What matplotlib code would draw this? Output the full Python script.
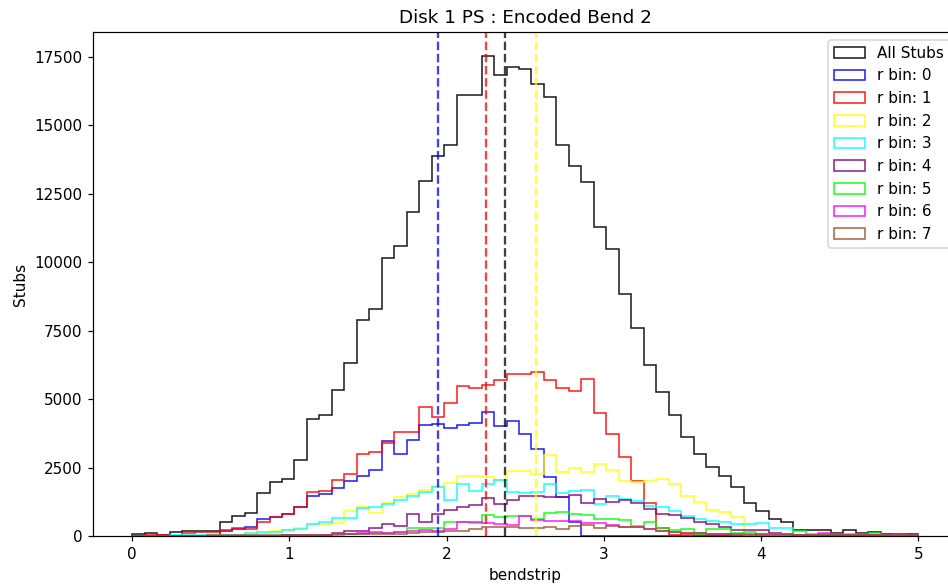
import numpy as np
import matplotlib
matplotlib.use('Agg')
import matplotlib.pyplot as plt

# ══════════════════════════════════════════════
# DATA  (63 bins over bendstrip 0..5)
# ══════════════════════════════════════════════

N_BINS = 63
X_MIN, X_MAX = 0.0, 5.0

all_stubs = [60, 110, 50, 130, 200, 200, 200, 520, 730, 850,
             1580, 1970, 2090, 2780, 4260, 4420, 5330, 6300, 7870, 8280,
             10130, 10600, 11840, 12970, 13880, 14270, 16100, 16100, 17520, 16830,
             17110, 17050, 16500, 16010, 14270, 13490, 12910, 11270, 10470, 8830,
             7610, 6250, 5270, 4420, 3630, 2990, 2510, 2200, 1800, 1190,
             910, 620, 520, 220, 220, 220, 100, 220, 100, 160,
             80, 80, 80]

rbin0 = [0, 0, 0, 0, 0, 0, 0, 190, 260, 340,
         610, 680, 800, 1070, 1460, 1530, 1740, 2020, 2190, 2410,
         3450, 3000, 3520, 4050, 4080, 3930, 4050, 4120, 4540, 4020,
         4200, 3720, 3170, 2170, 1440, 500, 0, 0, 0, 0,
         0, 0, 0, 0, 0, 0, 0, 0, 0, 0,
         0, 0, 0, 0, 0, 0, 0, 0, 0, 0,
         0, 0, 0]

rbin1 = [0, 50, 50, 0, 100, 130, 130, 210, 300, 250,
         520, 700, 800, 1070, 1620, 1650, 2040, 2260, 3000, 3060,
         3390, 3800, 3790, 4720, 4360, 4870, 5490, 5400, 5520, 5700,
         5900, 5910, 6000, 5680, 5400, 5280, 5720, 4480, 3730, 2900,
         1990, 1190, 300, 40, 60, 30, 20, 20, 10, 10,
         10, 0, 0, 0, 0, 0, 0, 0, 0, 0,
         0, 0, 0]

rbin2 = [0, 0, 0, 0, 0, 0, 0, 0, 0, 40,
         120, 200, 220, 280, 440, 440, 480, 910, 1050, 830,
         1220, 1410, 1530, 1680, 1810, 1920, 2200, 2200, 2150, 2060,
         2390, 2390, 2250, 2940, 2340, 2500, 2330, 2620, 2400, 1990,
         1960, 2010, 2070, 1900, 1450, 1230, 960, 890, 690, 30,
         30, 20, 20, 20, 20, 20, 20, 20, 20, 20,
         20, 20, 20]

rbin3 = [0, 0, 0, 30, 30, 30, 30, 50, 50, 110,
         150, 150, 220, 250, 440, 500, 670, 650, 1010, 1070,
         1170, 1300, 1450, 1600, 1800, 1300, 1880, 1640, 1880, 2050,
         1610, 1560, 1600, 1880, 1580, 1660, 1690, 1150, 1450, 1360,
         1290, 1100, 1050, 900, 740, 620, 540, 500, 450, 420,
         460, 290, 290, 20, 20, 20, 20, 20, 10, 10,
         10, 10, 10]

rbin4 = [0, 0, 0, 0, 0, 0, 0, 0, 0, 0,
         0, 0, 30, 30, 30, 40, 120, 180, 180, 280,
         450, 380, 800, 510, 800, 950, 1050, 1140, 1400, 1180,
         1320, 1450, 1450, 1410, 1440, 1490, 1210, 1360, 1240, 1310,
         1220, 1000, 810, 750, 650, 520, 450, 330, 220, 220,
         220, 100, 60, 30, 30, 30, 30, 30, 30, 30,
         30, 30, 30]

rbin5 = [0, 0, 0, 0, 0, 0, 0, 0, 0, 0,
         0, 0, 10, 20, 20, 40, 40, 60, 80, 100,
         100, 160, 300, 300, 280, 500, 500, 460, 780, 710,
         740, 720, 630, 840, 890, 790, 770, 630, 630, 580,
         360, 510, 300, 230, 270, 80, 240, 240, 100, 160,
         70, 70, 70, 180, 60, 60, 60, 60, 60, 100,
         30, 30, 30]

rbin6 = [0, 0, 0, 0, 0, 0, 0, 0, 0, 0,
         0, 0, 40, 20, 30, 40, 60, 80, 100, 150,
         120, 140, 200, 220, 180, 250, 500, 500, 480, 450,
         400, 720, 600, 560, 560, 560, 490, 460, 400, 330,
         320, 260, 170, 150, 120, 110, 80, 80, 40, 40,
         80, 60, 60, 40, 40, 120, 80, 40, 60, 40,
         40, 80, 30]

rbin7 = [0, 0, 0, 0, 0, 0, 20, 20, 20, 20,
         20, 20, 30, 40, 40, 50, 60, 60, 70, 70,
         80, 90, 120, 150, 160, 190, 200, 260, 340, 340,
         340, 280, 300, 320, 240, 350, 400, 310, 370, 320,
         340, 240, 200, 160, 120, 100, 80, 80, 60, 60,
         50, 50, 50, 50, 50, 50, 50, 50, 50, 50,
         50, 50, 50]

SERIES = [all_stubs, rbin0, rbin1, rbin2, rbin3, rbin4, rbin5, rbin6, rbin7]
LABELS = ['All Stubs'] + [f'r bin: {i}' for i in range(8)]
COLORS = ['black', 'blue', 'red', 'yellow', 'cyan', 'purple', 'lime', 'magenta', 'sienna']

# dashed markers (mean bendstrip) for All Stubs, r bin 0, 1, 2
MEAN_VALUES = [2.369, 1.945, 2.252, 2.566]
MEAN_COLORS = ['black', 'blue', 'red', 'yellow']


# ══════════════════════════════════════════════
# PLOT
# ══════════════════════════════════════════════

edges = np.linspace(X_MIN, X_MAX, N_BINS + 1)
centers = 0.5 * (edges[:-1] + edges[1:])

DPI = 110
fig = plt.figure(figsize=(948 / DPI, 588 / DPI), dpi=DPI)
# the original image is cropped on the right, so the axes run past the figure edge
ax = fig.add_axes([93 / 948, 52 / 588, 864.5 / 948, 504 / 588])

for vals, lab, col in zip(SERIES, LABELS, COLORS):
    ax.hist(centers, bins=edges, weights=vals, histtype='step',
            color=col, label=lab, linewidth=1.0, alpha=0.9)

for m, col in zip(MEAN_VALUES, MEAN_COLORS):
    ax.axvline(m, color=col, linestyle='--', linewidth=1.5, alpha=0.75)

ax.set_title('Disk 1 PS : Encoded Bend 2', fontsize=12)
ax.set_xlabel('bendstrip')
ax.set_ylabel('Stubs')
ax.set_yticks(np.arange(0, 17501, 2500))
ax.legend(loc='upper right')

fig.savefig('out.png', dpi=DPI)
